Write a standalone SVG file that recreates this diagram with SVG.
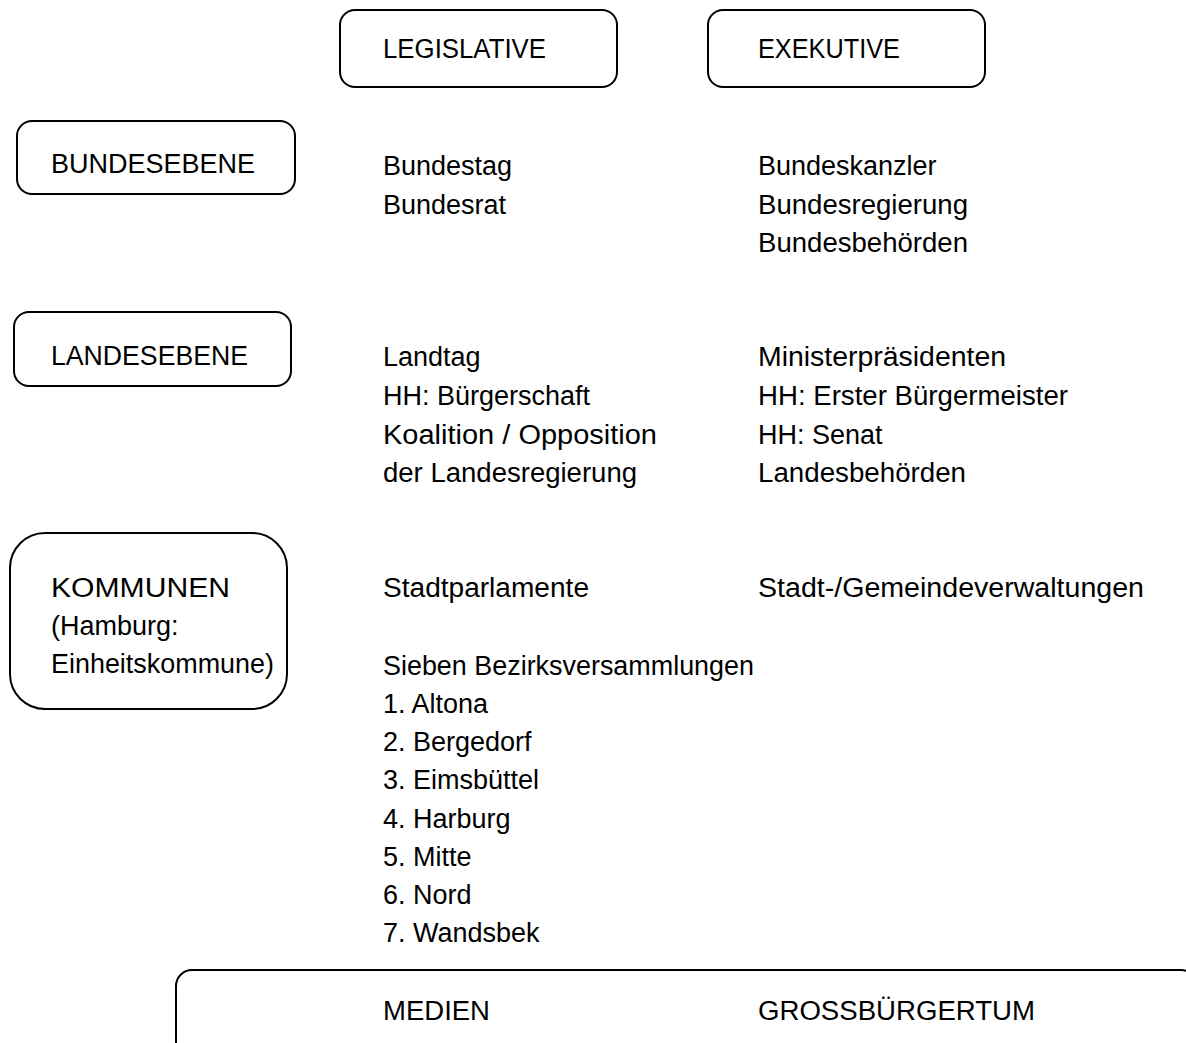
<svg xmlns="http://www.w3.org/2000/svg" width="1186" height="1043" viewBox="0 0 1186 1043">
<style>
.box{fill:#fff;stroke:#000;stroke-width:2}
text{font-family:"Liberation Sans",Arial,sans-serif;font-size:27px;fill:#000}
</style>
<rect width="1186" height="1043" fill="#fff"/>
<g id="legislative"><rect class="box" x="340" y="10" width="277" height="77" rx="15"/><text x="383" y="58" textLength="163" lengthAdjust="spacingAndGlyphs">LEGISLATIVE</text></g>
<g id="exekutive"><rect class="box" x="708" y="10" width="277" height="77" rx="15"/><text x="758" y="58" textLength="142" lengthAdjust="spacingAndGlyphs">EXEKUTIVE</text></g>
<g id="bundesebene"><rect class="box" x="17" y="121" width="278" height="73" rx="15"/><text x="51" y="173" textLength="204" lengthAdjust="spacingAndGlyphs">BUNDESEBENE</text></g>
<g id="landesebene"><rect class="box" x="14" y="312" width="277" height="74" rx="15"/><text x="51" y="365" textLength="197" lengthAdjust="spacingAndGlyphs">LANDESEBENE</text></g>
<g id="kommunen"><rect class="box" x="10" y="533" width="277" height="176" rx="35"/><text x="51" y="597" textLength="179" lengthAdjust="spacingAndGlyphs">KOMMUNEN</text><text x="51" y="635">(Hamburg:</text><text x="51" y="673" textLength="223" lengthAdjust="spacingAndGlyphs">Einheitskommune)</text></g>
<g id="bund-legislative"><text x="383" y="175">Bundestag</text><text x="383" y="214">Bundesrat</text></g>
<g id="bund-exekutive"><text x="758" y="175">Bundeskanzler</text><text x="758" y="214" textLength="210" lengthAdjust="spacingAndGlyphs">Bundesregierung</text><text x="758" y="252" textLength="210" lengthAdjust="spacingAndGlyphs">Bundesbehörden</text></g>
<g id="land-legislative"><text x="383" y="366">Landtag</text><text x="383" y="405">HH: Bürgerschaft</text><text x="383" y="444" textLength="274" lengthAdjust="spacingAndGlyphs">Koalition / Opposition</text><text x="383" y="482" textLength="254" lengthAdjust="spacingAndGlyphs">der Landesregierung</text></g>
<g id="land-exekutive"><text x="758" y="366" textLength="248" lengthAdjust="spacingAndGlyphs">Ministerpräsidenten</text><text x="758" y="405" textLength="310" lengthAdjust="spacingAndGlyphs">HH: Erster Bürgermeister</text><text x="758" y="444">HH: Senat</text><text x="758" y="482" textLength="208" lengthAdjust="spacingAndGlyphs">Landesbehörden</text></g>
<g id="kommunen-legislative"><text x="383" y="597" textLength="206" lengthAdjust="spacingAndGlyphs">Stadtparlamente</text><text x="383" y="675" textLength="371" lengthAdjust="spacingAndGlyphs">Sieben Bezirksversammlungen</text><text x="383" y="713">1. Altona</text><text x="383" y="751">2. Bergedorf</text><text x="383" y="789">3. Eimsbüttel</text><text x="383" y="828">4. Harburg</text><text x="383" y="866">5. Mitte</text><text x="383" y="904">6. Nord</text><text x="383" y="942">7. Wandsbek</text></g>
<g id="kommunen-exekutive"><text x="758" y="597" textLength="386" lengthAdjust="spacingAndGlyphs">Stadt-/Gemeindeverwaltungen</text></g>
<g id="bottom"><rect class="box" x="176" y="970" width="1021" height="100" rx="16"/><text x="383" y="1020" textLength="107" lengthAdjust="spacingAndGlyphs">MEDIEN</text><text x="758" y="1020" textLength="277" lengthAdjust="spacingAndGlyphs">GROSSBÜRGERTUM</text></g>
<g id="connectors"></g>
</svg>
